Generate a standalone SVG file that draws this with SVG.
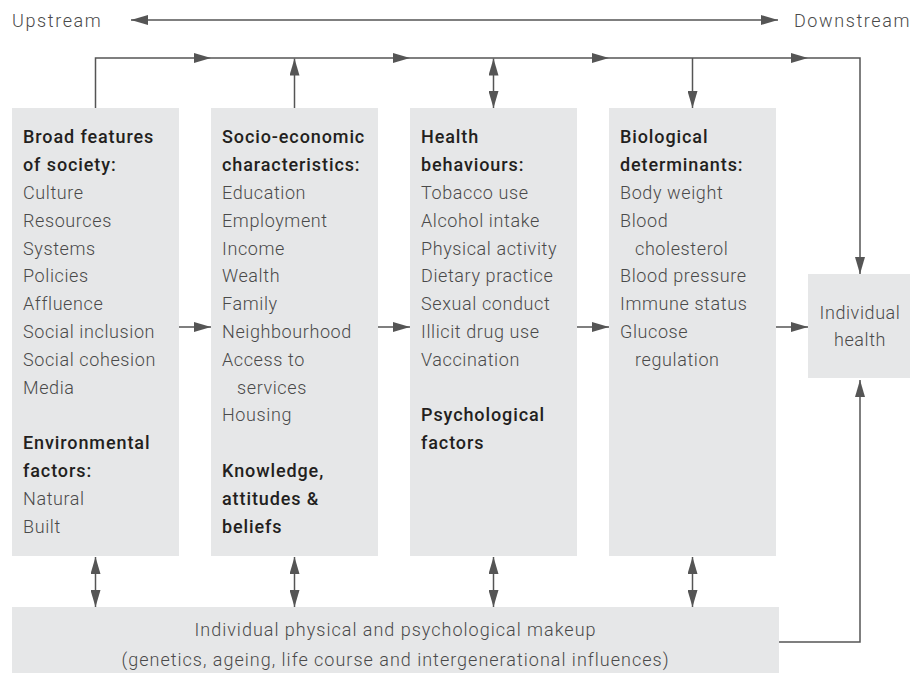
<svg xmlns="http://www.w3.org/2000/svg" width="913" height="675" viewBox="0 0 913 675">
  <defs>
    <style>
      .box { fill: #e6e7e8; }
      .t { font-family: Roboto, "Liberation Sans", sans-serif; font-size: 18px; font-weight: 300; fill: #4a4a4a; letter-spacing: 0.6px; }
      .h { font-weight: 500; fill: #231f20; letter-spacing: 0.9px; }
      .wide { letter-spacing: 1.6px; }
      .mk { letter-spacing: 1px; }
      .c { text-anchor: middle; }
      .ln { fill: none; stroke: #555; stroke-width: 1.5; }
    </style>
    <marker id="ah" markerUnits="userSpaceOnUse" markerWidth="17" markerHeight="10" refX="17" refY="5" orient="auto-start-reverse">
      <path d="M0,0 L17,5 L0,10 z" fill="#555"/>
    </marker>
  </defs>
  <rect width="913" height="675" fill="#fff"/>

  <!-- direction scale -->
  <g id="scale">
    <text class="t wide" x="12" y="27">Upstream</text>
    <text class="t wide" x="911" y="27" text-anchor="end">Downstream</text>
  </g>

  <!-- connectors -->
  <g id="connectors">
    <path class="ln" d="M131,20 H778" marker-start="url(#ah)" marker-end="url(#ah)"/>
    <!-- top feed line -->
    <path class="ln" d="M95.5,108 V58 H211" marker-end="url(#ah)"/>
    <path class="ln" d="M211,58 H410" marker-end="url(#ah)"/>
    <path class="ln" d="M410,58 H609" marker-end="url(#ah)"/>
    <path class="ln" d="M609,58 H808" marker-end="url(#ah)"/>
    <path class="ln" d="M808,58 H860 V274" marker-end="url(#ah)"/>
    <path class="ln" d="M294.5,108 V58.5" marker-end="url(#ah)"/>
    <path class="ln" d="M493.5,58.5 V108" marker-start="url(#ah)" marker-end="url(#ah)"/>
    <path class="ln" d="M692.5,58 V108" marker-end="url(#ah)"/>
    <!-- horizontal flow -->
    <path class="ln" d="M179,327 H211" marker-end="url(#ah)"/>
    <path class="ln" d="M378,327 H410" marker-end="url(#ah)"/>
    <path class="ln" d="M577,327 H609" marker-end="url(#ah)"/>
    <path class="ln" d="M776,327 H808" marker-end="url(#ah)"/>
    <!-- links to individual makeup -->
    <path class="ln" d="M95.5,557 V607" marker-start="url(#ah)" marker-end="url(#ah)"/>
    <path class="ln" d="M294.5,557 V607" marker-start="url(#ah)" marker-end="url(#ah)"/>
    <path class="ln" d="M493.5,557 V607" marker-start="url(#ah)" marker-end="url(#ah)"/>
    <path class="ln" d="M692.5,557 V607" marker-start="url(#ah)" marker-end="url(#ah)"/>
    <path class="ln" d="M779,642 H860 V380" marker-end="url(#ah)"/>
  </g>

  <g id="society">
    <rect class="box" x="12" y="108" width="167" height="448"/>
    <text class="t" x="23">
      <tspan class="h" x="23" y="143.3">Broad features</tspan>
      <tspan class="h" x="23" y="171.1">of society:</tspan>
      <tspan x="23" y="198.9">Culture</tspan>
      <tspan x="23" y="226.7">Resources</tspan>
      <tspan x="23" y="254.5">Systems</tspan>
      <tspan x="23" y="282.3">Policies</tspan>
      <tspan x="23" y="310.1">Affluence</tspan>
      <tspan x="23" y="337.9">Social inclusion</tspan>
      <tspan x="23" y="365.7">Social cohesion</tspan>
      <tspan x="23" y="393.5">Media</tspan>
      <tspan class="h" x="23" y="449.1">Environmental</tspan>
      <tspan class="h" x="23" y="476.9">factors:</tspan>
      <tspan x="23" y="504.7">Natural</tspan>
      <tspan x="23" y="532.5">Built</tspan>
    </text>
  </g>

  <g id="socioeconomic">
    <rect class="box" x="211" y="108" width="167" height="448"/>
    <text class="t">
      <tspan class="h" x="222" y="143.3">Socio-economic</tspan>
      <tspan class="h" x="222" y="171.1">characteristics:</tspan>
      <tspan x="222" y="198.9">Education</tspan>
      <tspan x="222" y="226.7">Employment</tspan>
      <tspan x="222" y="254.5">Income</tspan>
      <tspan x="222" y="282.3">Wealth</tspan>
      <tspan x="222" y="310.1">Family</tspan>
      <tspan x="222" y="337.9">Neighbourhood</tspan>
      <tspan x="222" y="365.7">Access to</tspan>
      <tspan x="237" y="393.5">services</tspan>
      <tspan x="222" y="421.3">Housing</tspan>
      <tspan class="h" x="222" y="476.9">Knowledge,</tspan>
      <tspan class="h" x="222" y="504.7">attitudes &amp;</tspan>
      <tspan class="h" x="222" y="532.5">beliefs</tspan>
    </text>
  </g>

  <g id="behaviours">
    <rect class="box" x="410" y="108" width="167" height="448"/>
    <text class="t">
      <tspan class="h" x="421" y="143.3">Health</tspan>
      <tspan class="h" x="421" y="171.1">behaviours:</tspan>
      <tspan x="421" y="198.9">Tobacco use</tspan>
      <tspan x="421" y="226.7">Alcohol intake</tspan>
      <tspan x="421" y="254.5">Physical activity</tspan>
      <tspan x="421" y="282.3">Dietary practice</tspan>
      <tspan x="421" y="310.1">Sexual conduct</tspan>
      <tspan x="421" y="337.9">Illicit drug use</tspan>
      <tspan x="421" y="365.7">Vaccination</tspan>
      <tspan class="h" x="421" y="421.3">Psychological</tspan>
      <tspan class="h" x="421" y="449.1">factors</tspan>
    </text>
  </g>

  <g id="biological">
    <rect class="box" x="609" y="108" width="167" height="448"/>
    <text class="t">
      <tspan class="h" x="620" y="143.3">Biological</tspan>
      <tspan class="h" x="620" y="171.1">determinants:</tspan>
      <tspan x="620" y="198.9">Body weight</tspan>
      <tspan x="620" y="226.7">Blood</tspan>
      <tspan x="635" y="254.5">cholesterol</tspan>
      <tspan x="620" y="282.3">Blood pressure</tspan>
      <tspan x="620" y="310.1">Immune status</tspan>
      <tspan x="620" y="337.9">Glucose</tspan>
      <tspan x="635" y="365.7">regulation</tspan>
    </text>
  </g>

  <g id="health">
    <rect class="box" x="808" y="274" width="102" height="104"/>
    <text class="t c" x="860" y="319">Individual</text>
    <text class="t c" x="860" y="346">health</text>
  </g>

  <g id="makeup">
    <rect class="box" x="12" y="607" width="767" height="66"/>
    <text class="t c mk" x="395.5" y="636">Individual physical and psychological makeup</text>
    <text class="t c mk" x="395.5" y="666">(genetics, ageing, life course and intergenerational influences)</text>
  </g>
</svg>
